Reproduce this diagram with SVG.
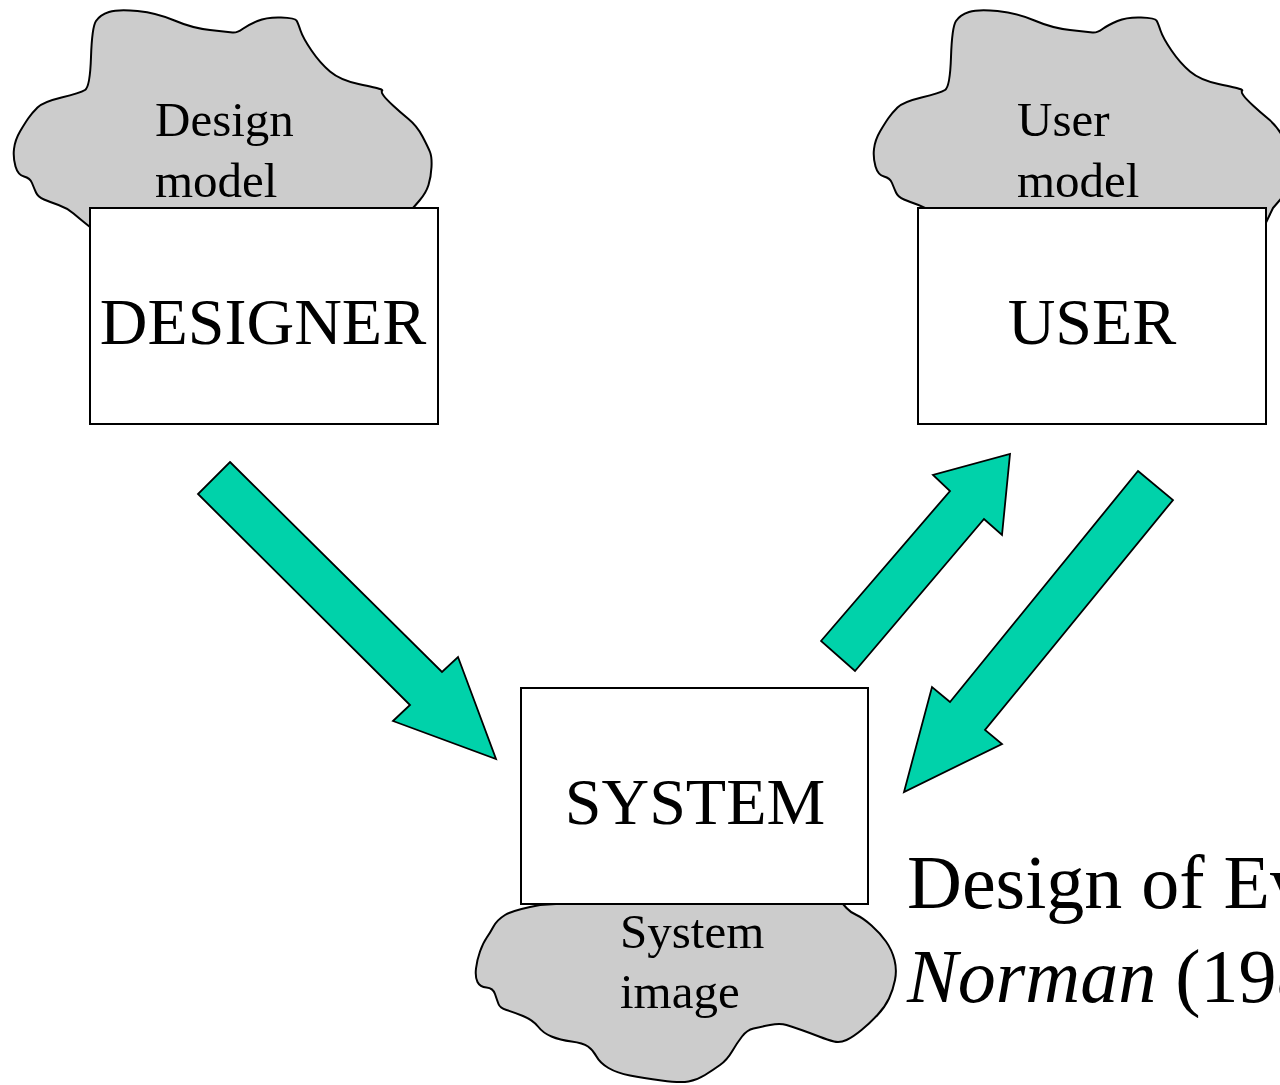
<svg xmlns="http://www.w3.org/2000/svg" width="1280" height="1085" viewBox="0 0 1280 1085">
<style>
.cloud{fill:#CCCCCC;stroke:#000;stroke-width:2;stroke-linejoin:round}
.box{fill:#FFFFFF;stroke:#000;stroke-width:2}
.arrow{fill:#00D2AA;stroke:#000;stroke-width:1.8;stroke-linejoin:miter}
.small{font-family:"Liberation Serif","Times New Roman",serif;font-size:49px;fill:#000}
.big{font-family:"Liberation Serif","Times New Roman",serif;font-size:66px;fill:#000;text-anchor:middle}
.cite{font-family:"Liberation Serif","Times New Roman",serif;font-size:76px;fill:#000}
</style>
<defs>
<path id="topcloud" d="M 90,227 L 85,223 Q 80,219 73.5,213.5 Q 67,208 58.5,205 Q 50,202 44,199.5 Q 38,197 36,192.5 Q 34,188 32,183 Q 30,178 24,176.5 Q 18,175 15.5,166.5 Q 13,158 14,149 Q 15,140 20,131.5 Q 25,123 28.5,118 Q 32,113 37.5,107.5 Q 43,102 61.5,97.5 Q 80,93 85,90 Q 90,87 91,57 Q 92,27 96,21 Q 100,15 109,12 Q 118,9 137.5,11 Q 157,13 174.5,20.5 Q 192,28 210,30 Q 228,32 232.5,32.5 Q 237,33 242.5,29 Q 248,25 257.5,21 Q 267,17 281,17.5 Q 295,18 296.5,20.5 Q 298,23 300.5,30.5 Q 303,38 311.5,50.5 Q 320,63 330,71.5 Q 340,80 358.5,84 Q 377,88 380,89 Q 383,90 382,91 Q 381,92 383.5,95.5 Q 386,99 393,105.5 Q 400,112 408.5,119 Q 417,126 422.5,136.5 Q 428,147 430,152 Q 432,157 431.5,167 Q 431,177 428.5,185 Q 426,193 419.5,200.5 L 413,208 L 400,235 Z"/>
</defs>
<g id="connectors">
<polygon id="arrow-designer-system" class="arrow" points="230,462 442,672 458,657 496,759 393,721 410,705 198,494"/>
<polygon id="arrow-system-user" class="arrow" points="821,641 950,491 933,475 1010,454 1002,535 984,519 855,671"/>
<polygon id="arrow-user-system" class="arrow" points="1138,471 1173,500 985,730 1002,744 904,792 932,687 950,702"/>
</g>
<g id="designer">
<use href="#topcloud" class="cloud"/>
<text class="small" x="155" y="136">Design</text>
<text class="small" x="155" y="197">model</text>
<rect class="box" x="90" y="208" width="348" height="216"/>
<text class="big" x="263" y="344">DESIGNER</text>
</g>
<g id="user">
<use href="#topcloud" class="cloud" transform="translate(860,0)"/>
<text class="small" x="1017" y="136">User</text>
<text class="small" x="1017" y="197">model</text>
<rect class="box" x="918" y="208" width="348" height="216"/>
<text class="big" x="1092" y="344">USER</text>
</g>
<g id="system">
<path class="cloud" d="M 540,905 Q 513,910 505,915 Q 497,920 493.5,926.5 Q 490,933 486.5,938 Q 483,943 480,951.5 Q 477,960 476,968.5 Q 475,977 477.5,982 Q 480,987 486.5,987.5 Q 493,988 495,994 Q 497,1000 498.5,1004 Q 500,1008 506.5,1010 Q 513,1012 523,1016 Q 533,1020 538,1026.5 Q 543,1033 551.5,1036.5 Q 560,1040 571.5,1041.5 Q 583,1043 588,1046.5 Q 593,1050 596.5,1056.5 Q 600,1063 608.5,1068 Q 617,1073 630,1075.5 Q 643,1078 661.5,1080.5 Q 680,1083 688.5,1081.5 Q 697,1080 705,1075 Q 713,1070 720,1065 Q 727,1060 732,1051.5 Q 737,1043 742,1036.5 Q 747,1030 753.5,1028.5 Q 760,1027 770,1025 Q 780,1023 786.5,1025 Q 793,1027 801.5,1030 Q 810,1033 819,1036.5 Q 828,1040 834,1041.5 Q 840,1043 846.5,1040 Q 853,1037 861.5,1030 Q 870,1023 877.5,1015 Q 885,1007 889,998.5 Q 893,990 895,980 Q 897,970 894.5,960 Q 892,950 886,941.5 Q 880,933 871.5,925.5 Q 863,918 856.5,915 Q 850,912 846.5,908 L 843,904 L 700,895 Z"/>
<rect class="box" x="521" y="688" width="347" height="216"/>
<text class="big" x="695" y="824">SYSTEM</text>
<text class="small" x="620" y="948">System</text>
<text class="small" x="620" y="1008">image</text>
</g>
<g id="citation">
<text class="cite" x="907" y="908">Design of Everyday Things</text>
<text class="cite" x="907" y="1002"><tspan font-style="italic">Norman</tspan> (1988)</text>
</g>
</svg>
